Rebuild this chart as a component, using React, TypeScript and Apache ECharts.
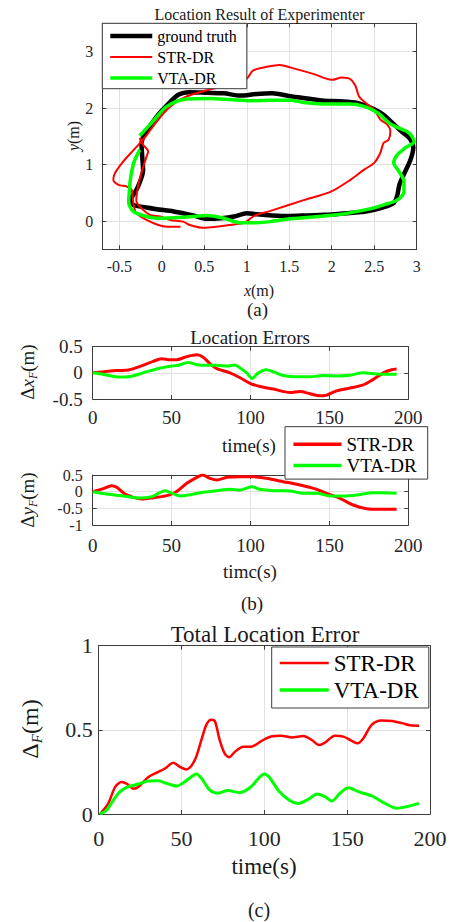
import React, { useEffect, useRef } from 'react';
import * as echarts from 'echarts';

const SERIF = "'Liberation Serif','Times New Roman',Times,serif";
const RED = '#ff0000';
const GREEN = '#00ff00';
const BLACK = '#000000';
const BOX = '#3c3c3c';
const GRIDC = '#e2e2e2';
const TICKC = '#262626';

// (a) trajectories [x, y] in metres
const groundTruth = [
  [-0.24, 1.38], [-0.21, 1.52], [-0.06, 1.85], [0.08, 2.08], [0.20, 2.24], [0.33, 2.28], [0.53, 2.27],
  [0.73, 2.26], [0.92, 2.22], [1.12, 2.25], [1.30, 2.26], [1.51, 2.21], [1.71, 2.17], [1.91, 2.13],
  [2.10, 2.12], [2.30, 2.09], [2.50, 1.98], [2.61, 1.88], [2.71, 1.74], [2.81, 1.60], [2.92, 1.46],
  [2.96, 1.30], [2.93, 1.10], [2.86, 0.86], [2.80, 0.66], [2.77, 0.45], [2.73, 0.32], [2.60, 0.24],
  [2.40, 0.17], [2.10, 0.13], [1.91, 0.11], [1.71, 0.10], [1.51, 0.09], [1.30, 0.10], [1.12, 0.12],
  [1.00, 0.14], [0.85, 0.08], [0.70, 0.05], [0.53, 0.04], [0.37, 0.10], [0.14, 0.17], [-0.06, 0.21],
  [-0.18, 0.24], [-0.34, 0.29], [-0.37, 0.38], [-0.34, 0.45], [-0.28, 0.61], [-0.22, 0.90],
  [-0.23, 1.14], [-0.24, 1.38],
];
const strPath = [
  [0.22, -0.10], [0.06, -0.10], [-0.04, -0.07], [-0.18, 0.02], [-0.30, 0.14], [-0.335, 0.32],
  [-0.355, 0.55], [-0.41, 0.61], [-0.51, 0.64], [-0.57, 0.73], [-0.55, 0.85], [-0.45, 1.06],
  [-0.33, 1.26], [-0.22, 1.44], [-0.10, 1.68], [0.06, 1.97], [0.255, 2.18], [0.57, 2.33],
  [0.88, 2.44], [1.00, 2.52], [1.07, 2.66], [1.17, 2.71], [1.39, 2.76], [1.51, 2.72], [1.79, 2.60],
  [2.00, 2.50], [2.12, 2.54], [2.22, 2.51], [2.28, 2.39], [2.32, 2.21], [2.40, 2.09], [2.50, 1.97],
  [2.57, 1.80], [2.65, 1.71], [2.69, 1.59], [2.67, 1.44], [2.61, 1.38], [2.57, 1.20], [2.50, 1.03],
  [2.38, 0.91], [2.22, 0.73], [1.99, 0.52], [1.67, 0.37], [1.28, 0.18], [1.10, 0.10], [1.03, 0.03],
  [0.97, -0.03], [0.85, -0.06], [0.69, -0.09], [0.49, -0.12], [0.33, -0.07], [0.25, -0.01],
  [0.10, 0.02], [-0.02, 0.08], [-0.14, 0.11], [-0.26, 0.26], [-0.30, 0.37], [-0.28, 0.61],
  [-0.24, 0.85], [-0.18, 1.14], [-0.16, 1.23], [-0.22, 1.35], [-0.26, 1.47],
];
const vtaPath = [
  [-0.26, 1.51], [-0.10, 1.77], [0.06, 2.03], [0.30, 2.16], [0.57, 2.17], [0.81, 2.15], [1.04, 2.13],
  [1.28, 2.14], [1.51, 2.14], [1.67, 2.10], [1.95, 2.07], [2.20, 2.07], [2.38, 2.03], [2.535, 1.92],
  [2.69, 1.72], [2.80, 1.64], [2.91, 1.56], [2.97, 1.41], [2.87, 1.30], [2.77, 1.17], [2.73, 1.03],
  [2.79, 0.88], [2.85, 0.70], [2.85, 0.52], [2.77, 0.37], [2.66, 0.31], [2.46, 0.22], [2.06, 0.11],
  [1.51, 0.04], [1.28, -0.01], [1.12, -0.03], [0.92, -0.03], [0.73, 0.05], [0.53, 0.10], [0.37, 0.08],
  [0.14, 0.06], [-0.06, 0.05], [-0.18, 0.08], [-0.335, 0.17], [-0.39, 0.34], [-0.38, 0.55],
  [-0.37, 0.73], [-0.33, 1.03], [-0.26, 1.26],
];

// (b) x-direction errors
const dxStrTime = [0, 7, 15, 21.5, 30, 38.4, 43.7, 49, 53, 59.6, 66, 70, 74.3, 78.6, 87, 93.4, 99.7, 106, 114.5, 125, 131.4, 137.7, 144, 148.3, 154.6, 163, 171.5, 177.8, 184.2, 189.4, 192.6];
const dxStr = [0, 0.02, 0.045, 0.05, 0.125, 0.22, 0.27, 0.25, 0.25, 0.31, 0.345, 0.30, 0.175, 0.08, 0, -0.094, -0.2, -0.26, -0.31, -0.375, -0.355, -0.4, -0.44, -0.425, -0.345, -0.29, -0.23, -0.125, 0, 0.06, 0.075];
const dxVtaTime = [0, 7, 17.3, 23.7, 32, 40.5, 49, 54.3, 60.6, 66, 72, 78.6, 85, 90, 93.4, 97.6, 101, 105, 110, 114.5, 120.8, 129, 137.7, 146, 154.6, 163, 171.5, 180, 188.4, 192.6];
const dxVta = [0, -0.03, -0.08, -0.07, 0, 0.075, 0.125, 0.145, 0.2, 0.156, 0.145, 0.145, 0.13, 0.15, 0.094, 0, -0.106, 0, 0.06, 0.02, -0.05, -0.075, -0.075, -0.05, -0.06, -0.044, 0, -0.02, -0.025, -0.025];

// (b) y-direction errors
const dyStrTime = [0, 6.8, 12, 15.2, 20.5, 25.8, 31, 38.4, 47, 53, 59.6, 66, 69.7, 74.3, 78.6, 85, 93.4, 101.8, 110, 120.8, 131.4, 142, 148.3, 156.7, 165, 173.6, 182, 192.6];
const dyStr = [0, 0.09, 0.18, 0.13, -0.07, -0.17, -0.22, -0.18, -0.12, 0, 0.25, 0.43, 0.5, 0.4, 0.35, 0.43, 0.45, 0.45, 0.4, 0.3, 0.2, 0.07, -0.05, -0.2, -0.4, -0.51, -0.53, -0.53];
const dyVtaTime = [0, 8.9, 19.4, 30, 37.4, 41.6, 45.8, 49, 55.3, 61.7, 70, 78.6, 87, 93.4, 100.7, 106, 114.5, 125, 133.5, 142, 150.4, 158.8, 167.3, 177.8, 184, 192.6];
const dyVta = [0, -0.07, -0.13, -0.19, -0.15, -0.05, 0.03, -0.02, -0.13, -0.09, -0.02, 0.03, 0.07, 0.05, 0.15, 0.07, 0.03, 0.02, -0.05, -0.05, -0.13, -0.13, -0.1, -0.03, -0.03, -0.05];

// (c) total errors
const totStrTime = [0.8, 5.8, 9.9, 13.9, 16.9, 20.9, 23.9, 30, 36, 40, 45, 49, 53, 58, 62, 65, 67.8, 70.2, 73, 76, 78.7, 82.3, 87.3, 92, 98.4, 104, 110, 116.5, 123.5, 128.6, 133, 136.6, 142.6, 147.7, 152.7, 156.3, 159.8, 164.8, 170.8, 176.9, 183, 188, 193.4];
const totStr = [0, 0.063, 0.16, 0.19, 0.18, 0.15, 0.16, 0.22, 0.25, 0.27, 0.305, 0.28, 0.265, 0.32, 0.44, 0.53, 0.56, 0.55, 0.44, 0.36, 0.337, 0.37, 0.40, 0.40, 0.435, 0.46, 0.465, 0.455, 0.463, 0.44, 0.41, 0.424, 0.465, 0.46, 0.435, 0.42, 0.45, 0.53, 0.555, 0.552, 0.54, 0.527, 0.525];
const totVtaTime = [0.8, 4.8, 8.9, 12.9, 17.9, 24, 30, 36, 41, 47, 52, 56, 59, 62, 67, 72, 78, 85, 92, 97, 100, 103, 109, 115.5, 120.5, 126.5, 132, 136.6, 140.6, 145.7, 150.7, 156.7, 164.8, 172.8, 180, 186, 193.4];
const totVta = [0, 0.024, 0.083, 0.133, 0.162, 0.178, 0.196, 0.198, 0.182, 0.166, 0.192, 0.222, 0.238, 0.212, 0.143, 0.123, 0.139, 0.127, 0.162, 0.218, 0.238, 0.218, 0.133, 0.079, 0.063, 0.087, 0.119, 0.103, 0.077, 0.123, 0.156, 0.133, 0.107, 0.063, 0.034, 0.044, 0.063];

const zip = (t: number[], v: number[]) => t.map((x, i) => [x, v[i]]);

type AxisCfg = {
  gi: number; min: number; max: number; interval?: number; splitNumber?: number;
  fs: number; margin: number; formatter?: (v: number) => string; showEnds?: boolean;
};

function axisPair(dim: 'x' | 'y', c: AxisCfg) {
  const base: any = { type: 'value', gridIndex: c.gi, min: c.min, max: c.max };
  if (c.interval) base.interval = c.interval;
  if (c.splitNumber) base.splitNumber = c.splitNumber;
  const line = { show: true, onZero: false, lineStyle: { color: BOX, width: 1 } };
  const tick = { show: true, inside: true, length: 4, lineStyle: { color: BOX, width: 1 } };
  const main = {
    ...base,
    position: dim === 'x' ? 'bottom' : 'left',
    axisLine: line,
    axisTick: tick,
    axisLabel: {
      show: true, fontFamily: SERIF, fontSize: c.fs, color: TICKC, margin: c.margin,
      hideOverlap: false,
      ...(c.showEnds ? { showMinLabel: true, showMaxLabel: true } : {}),
      ...(c.formatter ? { formatter: c.formatter } : {}),
    },
    splitLine: { show: true, showMinLine: false, showMaxLine: false, lineStyle: { color: GRIDC, width: 1 } },
  };
  const mirror = {
    ...base,
    position: dim === 'x' ? 'top' : 'right',
    axisLine: line,
    axisTick: tick,
    axisLabel: { show: false },
    splitLine: { show: false },
  };
  return [main, mirror];
}

const onGrid = (step: number) => (v: number) => {
  const k = v / step;
  return Math.abs(k - Math.round(k)) < 1e-6 ? String(Math.round(v * 1000) / 1000) : '';
};

function lineSeries(name: string, axis: number, data: number[][], color: string, width: number) {
  return {
    type: 'line', name, xAxisIndex: axis, yAxisIndex: axis, data,
    symbol: 'none', showSymbol: false, smooth: 0.3, silent: true, z: 2,
    lineStyle: { color, width }, itemStyle: { color },
  };
}

function legendBox(left: number, top: number, padding: number[], gap: number, iw: number, fs: number, items: { name: string; w: number }[]) {
  return {
    show: true, orient: 'vertical', left, top, padding, itemGap: gap, itemWidth: iw, itemHeight: 4,
    backgroundColor: '#ffffff', borderColor: BOX, borderWidth: 1, borderRadius: 0,
    selectedMode: false, z: 10,
    textStyle: { fontFamily: SERIF, fontSize: fs, color: '#000000' },
    itemStyle: { opacity: 0, borderWidth: 0 },
    data: items.map((it) => ({ name: it.name, lineStyle: { width: it.w } })),
  };
}

function label(text: string, x: number, y: number, fs: number) {
  return {
    type: 'text', x, y, z: 100, silent: true,
    style: {
      text, fontFamily: SERIF, fontSize: fs, fill: '#1a1a1a',
      textAlign: 'center', textVerticalAlign: 'middle',
    },
  };
}

function richLabel(text: string, x: number, y: number, fs: number, subFs: number, subPad: number, rotate: boolean) {
  return {
    type: 'text', x, y, z: 100, silent: true, rotation: rotate ? Math.PI / 2 : 0,
    style: {
      text, fontFamily: SERIF, fontSize: fs, fill: '#1a1a1a',
      textAlign: 'center', textVerticalAlign: 'middle',
      rich: {
        n: { fontFamily: SERIF, fontSize: fs, lineHeight: fs, fill: '#1a1a1a' },
        i: { fontFamily: SERIF, fontSize: fs, lineHeight: fs, fontStyle: 'italic', fill: '#1a1a1a' },
        s: { fontFamily: SERIF, fontSize: subFs, lineHeight: subFs, fontStyle: 'italic', padding: [subPad, 0, 0, 0], fill: '#1a1a1a' },
      },
    },
  };
}

export default function App() {
  const ref = useRef<HTMLDivElement>(null);
  useEffect(() => {
    document.body.style.margin = '0';
    document.body.style.background = '#ffffff';
    if (!ref.current) return;
    const chart = echarts.init(ref.current, null, { renderer: 'svg' });
    const xA = [
      ...axisPair('x', { gi: 0, min: -0.7, max: 3, splitNumber: 7, fs: 16, margin: 9, formatter: onGrid(0.5) }),
      ...axisPair('x', { gi: 1, min: 0, max: 200, interval: 50, fs: 19, margin: 9, showEnds: true }),
      ...axisPair('x', { gi: 2, min: 0, max: 200, interval: 50, fs: 19, margin: 11, showEnds: true }),
      ...axisPair('x', { gi: 3, min: 0, max: 200, interval: 50, fs: 22, margin: 13, showEnds: true }),
    ];
    const yA = [
      ...axisPair('y', { gi: 0, min: -0.5, max: 3.5, splitNumber: 5, fs: 16, margin: 9, formatter: onGrid(1) }),
      ...axisPair('y', { gi: 1, min: -0.5, max: 0.5, interval: 0.5, fs: 19, margin: 10, showEnds: true }),
      ...axisPair('y', { gi: 2, min: -1, max: 0.5, interval: 0.5, fs: 16, margin: 10, showEnds: true }),
      ...axisPair('y', { gi: 3, min: 0, max: 1, interval: 0.5, fs: 22, margin: 6, showEnds: true }),
    ];
    const option: any = {
      animation: false,
      backgroundColor: '#ffffff',
      grid: [
        { left: 102.3, top: 23.3, width: 314.4, height: 226, outerBoundsMode: 'none' },
        { left: 92.7, top: 346.7, width: 315.6, height: 52.3, outerBoundsMode: 'none' },
        { left: 92.7, top: 475, width: 315.6, height: 50, outerBoundsMode: 'none' },
        { left: 98.7, top: 645.7, width: 331.3, height: 168.3, outerBoundsMode: 'none' },
      ],
      xAxis: xA,
      yAxis: yA,
      legend: [
        legendBox(102.3, 23.3, [4.7, 10, 2.7, 5.7], 5, 42, 16, [
          { name: 'ground truth', w: 4.5 }, { name: 'STR-DR', w: 2 }, { name: 'VTA-DR', w: 3.5 },
        ]),
        legendBox(285, 426.7, [8, 11, 4, 6.7], 2.4, 48, 19, [
          { name: 'STR-DR', w: 3.5 }, { name: 'VTA-DR', w: 3.5 },
        ]),
        legendBox(271.7, 647, [4.5, 10, 6.5, 6.3], 4, 49, 23, [
          { name: 'STR-DR', w: 2.5 }, { name: 'VTA-DR', w: 3.5 },
        ]),
      ],
      series: [
        lineSeries('ground truth', 0, groundTruth, BLACK, 4.5),
        lineSeries('STR-DR', 0, strPath, RED, 2),
        lineSeries('VTA-DR', 0, vtaPath, GREEN, 3.5),
        lineSeries('STR-DR', 2, zip(dxStrTime, dxStr), RED, 3),
        lineSeries('VTA-DR', 2, zip(dxVtaTime, dxVta), GREEN, 3),
        lineSeries('STR-DR', 4, zip(dyStrTime, dyStr), RED, 3),
        lineSeries('VTA-DR', 4, zip(dyVtaTime, dyVta), GREEN, 3),
        lineSeries('STR-DR', 6, zip(totStrTime, totStr), RED, 2.5),
        lineSeries('VTA-DR', 6, zip(totVtaTime, totVta), GREEN, 3),
      ],
      graphic: [
        label('Location Result of Experimenter', 259.5, 14.5, 16),
        richLabel('{i|x}{n|(m)}', 259, 290, 16, 11, 0, false),
        label('(a)', 257.5, 309.5, 19),
        richLabel('{i|y}{n|(m)}', 73, 136, 16, 11, 0, true),
        label('Location Errors', 250, 337, 19),
        label('time(s)', 249, 445, 19),
        richLabel('{n|Δ}{i|x}{s|F}{n|(m)}', 27, 372, 19, 12, 12, true),
        richLabel('{n|Δ}{i|y}{s|F}{n|(m)}', 27, 500, 19, 12, 12, true),
        label('timc(s)', 250, 571.5, 19),
        label('(b)', 252, 603, 19),
        label('Total Location Error', 265, 634, 23),
        label('time(s)', 264, 866.7, 23),
        richLabel('{n|Δ}{s|F}{n|(m)}', 30, 729, 24, 15, 14, true),
        label('(c)', 259, 910, 20),
      ],
    };
    chart.setOption(option);
    return () => chart.dispose();
  }, []);
  return <div ref={ref} style={{ width: 453, height: 922 }} />;
}
